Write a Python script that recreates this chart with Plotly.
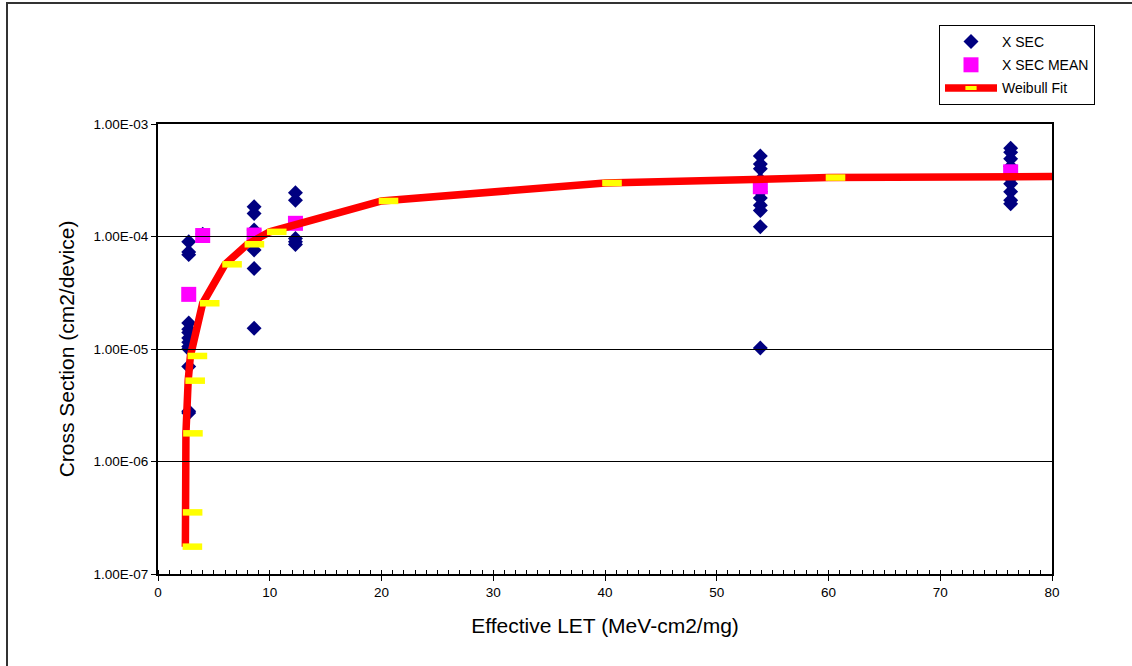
import plotly.graph_objects as go

# ---- data ----
let_xsec = ([2.75] * 13 + [4.0] + [8.6] * 7 + [12.3] * 5 + [53.9] * 10 + [76.3] * 9)
xsec = ([9.0e-5, 7.3e-5, 6.9e-5, 1.7e-5, 1.5e-5, 1.4e-5, 1.25e-5, 1.15e-5, 1.05e-5, 1.0e-5, 7.0e-6, 2.8e-6, 2.7e-6,
         1.05e-4,
         1.84e-4, 1.6e-4, 1.14e-4, 9.5e-5, 7.6e-5, 5.2e-5, 1.53e-5,
         2.45e-4, 2.1e-4, 9.6e-5, 9.0e-5, 8.5e-5,
         5.2e-4, 4.4e-4, 4.0e-4, 3.2e-4, 2.5e-4, 2.2e-4, 1.9e-4, 1.7e-4, 1.22e-4, 1.02e-5,
         6.1e-4, 5.6e-4, 4.9e-4, 4.2e-4, 3.3e-4, 2.95e-4, 2.5e-4, 2.1e-4, 1.95e-4])

let_mean = [2.75, 4.0, 8.6, 12.3, 53.9, 76.3]
xsec_mean = [3.06e-5, 1.02e-4, 1.03e-4, 1.31e-4, 2.77e-4, 3.76e-4]

let_fit = [2.45, 2.47, 2.5, 2.7, 2.9, 4, 6, 8, 10, 20, 40, 60, 80]
xsec_fit = [1.75e-7, 3.53e-7, 1.78e-6, 5.23e-6, 8.67e-6, 2.55e-5, 5.66e-5, 8.53e-5,
            1.10e-4, 2.07e-4, 2.99e-4, 3.34e-4, 3.41e-4]

y_tickvals = [1e-7, 1e-6, 1e-5, 1e-4, 1e-3]
y_ticktext = ["1.00E-07", "1.00E-06", "1.00E-05", "1.00E-04", "1.00E-03"]
x_tickvals = [0, 10, 20, 30, 40, 50, 60, 70, 80]

# ---- layout geometry ----
W, H = 1132, 666
ML, MR, MT, MB = 158, 80, 124, 92
PW = W - ML - MR
PH = H - MT - MB
marker_shift_px = 7
d = marker_shift_px / PW

FONT = "Liberation Sans, Arial, sans-serif"


def px_x(p):
    return (p - ML) / PW


def px_y(p):
    return (MT + PH - p) / PH


fig = go.Figure()

fig.add_trace(go.Scatter(
    x=let_xsec, y=xsec, mode="markers", name="X SEC",
    marker=dict(symbol="diamond", size=11.5, color="#000080", line=dict(width=0)),
    legendgroup="a", cliponaxis=False))

fig.add_trace(go.Scatter(
    x=let_mean, y=xsec_mean, mode="markers", name="X SEC MEAN",
    marker=dict(symbol="square", size=15, color="#FF00FF", line=dict(width=0)),
    legendgroup="b", cliponaxis=False))

fig.add_trace(go.Scatter(
    x=let_fit, y=xsec_fit, mode="lines", name="Weibull Fit",
    line=dict(color="#FF0000", width=7.5), showlegend=False, legendgroup="c",
    cliponaxis=False))

fig.add_trace(go.Scatter(
    x=let_fit, y=xsec_fit, mode="markers", name="Weibull Fit",
    xaxis="x2", yaxis="y",
    marker=dict(symbol="line-ew", size=14, color="#FFFF00",
                line=dict(color="#FFFF00", width=6.5)),
    showlegend=False, legendgroup="c", cliponaxis=False))

# legend entry for the fit (line + marker)
fig.add_trace(go.Scatter(
    x=[None], y=[None], mode="lines+markers", name="Weibull Fit",
    line=dict(color="#FF0000", width=7.5),
    marker=dict(symbol="line-ew", size=8, color="#FFFF00",
                line=dict(color="#FFFF00", width=4)),
    legendgroup="c"))

fig.update_layout(
    template="none",
    width=W, height=H,
    margin=dict(l=ML, r=MR, t=MT, b=MB, autoexpand=False),
    paper_bgcolor="white",
    plot_bgcolor="rgba(0,0,0,0)",
    font=dict(family=FONT, color="black", size=13),
    showlegend=True,
    legend=dict(
        x=px_x(939), y=px_y(25),
        xanchor="left", yanchor="top",
        bgcolor="white", bordercolor="black", borderwidth=1,
        font=dict(family=FONT, size=14, color="black"),
        traceorder="grouped", tracegroupgap=2, itemwidth=52,
    ),
    xaxis=dict(
        range=[0, 80], domain=[0, 1],
        tickvals=x_tickvals, ticks="outside", ticklen=5, tickwidth=1, tickcolor="black",
        minor=dict(dtick=1, ticks="inside", ticklen=4, tickwidth=1, tickcolor="black", showgrid=False),
        showline=True, linecolor="black", linewidth=2, mirror=True,
        showgrid=False, zeroline=False, automargin=False,
        tickfont=dict(family=FONT, size=13.5, color="black"),
        title=dict(text="Effective LET (MeV-cm2/mg)", font=dict(family=FONT, size=21, color="black"),
                   standoff=19),
    ),
    xaxis2=dict(
        range=[0, 80 * (1 - d)], domain=[d, 1], anchor="y",
        visible=False, showgrid=False, zeroline=False, fixedrange=True,
    ),
    yaxis=dict(
        type="log", range=[-7, -3],
        tickvals=y_tickvals, ticktext=y_ticktext,
        ticks="outside", ticklen=5, tickwidth=1, tickcolor="black",
        showline=True, linecolor="black", linewidth=2, mirror=True,
        showgrid=True, gridcolor="black", gridwidth=1, zeroline=False, automargin=False,
        tickfont=dict(family=FONT, size=13.5, color="black"),
        title=dict(text="Cross Section (cm2/device)", font=dict(family=FONT, size=21, color="black"),
                   standoff=13),
    ),
)

# outer chart frame (left and top edges visible)
fig.add_shape(type="line", xref="paper", yref="paper",
              x0=px_x(7), x1=px_x(7), y0=px_y(H + 5), y1=px_y(3),
              line=dict(color="#333333", width=2))
fig.add_shape(type="line", xref="paper", yref="paper",
              x0=px_x(6), x1=px_x(W + 5), y0=px_y(3), y1=px_y(3),
              line=dict(color="#333333", width=2))

fig.write_html("out.html", config={"displayModeBar": False},
               post_script="document.body.style.margin='0px';document.body.style.padding='0px';")
